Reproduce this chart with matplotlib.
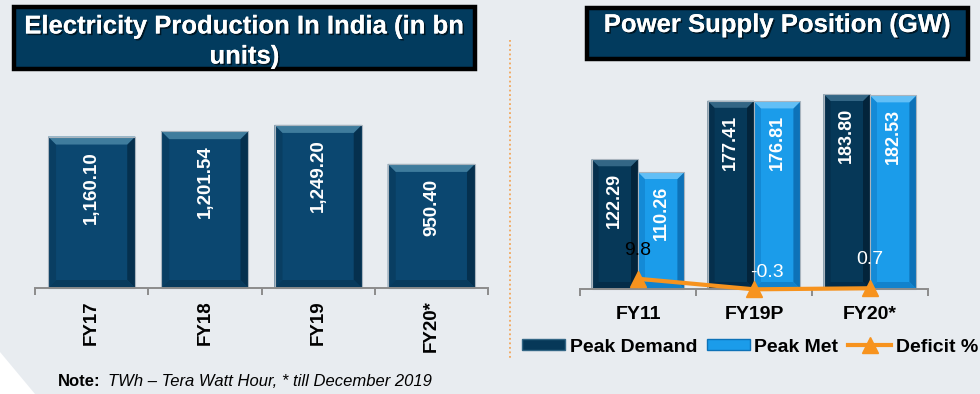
import matplotlib
matplotlib.use("Agg")
import matplotlib.pyplot as plt
import matplotlib.patheffects as pe
from matplotlib.patches import Polygon, Rectangle, Patch
from matplotlib.lines import Line2D
from matplotlib.transforms import IdentityTransform

plt.rcParams['font.family'] = ['Liberation Sans', 'DejaVu Sans']

# ---------------- data ----------------
prod_years = ["FY17", "FY18", "FY19", "FY20*"]
prod_values = [1160.10, 1201.54, 1249.20, 950.40]
prod_labels = ["1,160.10", "1,201.54", "1,249.20", "950.40"]

supply_years = ["FY11", "FY19P", "FY20*"]
peak_demand = [122.29, 177.41, 183.80]
peak_met = [110.26, 176.81, 182.53]
deficit_pct = [9.8, -0.3, 0.7]

title_left = "Electricity Production In India (in bn\nunits)"
title_right = "Power Supply Position (GW)"
note_bold = "Note:"
note_italic = "TWh \u2013 Tera Watt Hour, * till December 2019"

# ---------------- style ----------------
W, H = 980, 394
BG = "#e8ecf0"
NAVY = "#023b5e"
ORANGE = "#f7931e"
C_PROD = dict(main="#0b4770", top="#3f7c9d", left="#093e62", right="#05304e", bot="#083a5c")
C_DEM = dict(main="#063858", top="#336685", left="#052f4c", right="#03243b", bot="#042c48")
C_MET = dict(main="#1b9cea", top="#62bff6", left="#148ad6", right="#0d72b8", bot="#1282cc")

fig = plt.figure(figsize=(W / 100, H / 100), dpi=100)
fig.patch.set_facecolor(BG)


def fx(px):
    return px / W


def fy(py):
    return 1 - py / H


# white diagonal at bottom-left
fig.patches.append(Polygon([(fx(0), fy(352)), (fx(35), fy(394)), (fx(0), fy(394))],
                           closed=True, transform=fig.transFigure, facecolor="white",
                           edgecolor="none", zorder=0))

shadow = [pe.withSimplePatchShadow(offset=(1.2, -1.2), shadow_rgbFace="black", alpha=0.6),
          pe.Normal()]


def title_box(x0, y0, x1, y1, text, ty, ls=1.0):
    fig.patches.append(Rectangle((fx(x0), fy(y1)), fx(x1) - fx(x0), fy(y0) - fy(y1),
                                 transform=fig.transFigure, facecolor=NAVY,
                                 edgecolor="black", linewidth=3.2, zorder=1))
    fig.text(fx((x0 + x1) / 2), fy(ty), text, ha="center", va="center",
             color="white", fontsize=18.5, fontweight="bold", linespacing=ls,
             multialignment="center", zorder=2, path_effects=shadow)


title_box(14, 7, 475, 69, title_left, 41.5, ls=1.32)
title_box(587, 8, 968, 59, title_right, 25)

# separator dotted line
fig.lines.append(Line2D([fx(510), fx(510)], [fy(40), fy(360)], transform=fig.transFigure,
                        color="#f2a65a", linestyle=(0, (1, 1.5)), linewidth=1.3))


def bevel_bar(ax, rect, cols, b=6):
    (x0, y0), (x1, y1) = ax.transData.transform([(rect.get_x(), 0),
                                                 (rect.get_x() + rect.get_width(), rect.get_height())])
    t = IdentityTransform()
    polys = [
        ([(x0, y0), (x1, y0), (x1, y1), (x0, y1)], cols["main"]),
        ([(x0, y0), (x0 + b, y0 + b), (x0 + b, y1 - b), (x0, y1)], cols["left"]),
        ([(x1, y0), (x1, y1), (x1 - b, y1 - b), (x1 - b, y0 + b)], cols["right"]),
        ([(x0, y0), (x1, y0), (x1 - b, y0 + b), (x0 + b, y0 + b)], cols["bot"]),
        ([(x0, y1), (x1, y1), (x1 - b, y1 - b), (x0 + b, y1 - b)], cols["top"]),
    ]
    for pts, c in polys:
        ax.add_patch(Polygon(pts, closed=True, transform=t, facecolor=c,
                             edgecolor="none", zorder=2, clip_on=False))
    ax.add_patch(Polygon([(x0, y0), (x1, y0), (x1, y1), (x0, y1)], closed=True,
                         transform=t, facecolor="none", edgecolor="#a9b4be",
                         linewidth=0.8, zorder=2, clip_on=False))


def style_axis(ax, n):
    ax.set_facecolor("none")
    for s in ["top", "right", "left"]:
        ax.spines[s].set_visible(False)
    ax.spines["bottom"].set_color("#8c8c8c")
    ax.spines["bottom"].set_linewidth(1.4)
    ax.spines["bottom"].set_zorder(3)
    ax.set_yticks([])
    ax.set_xlim(-0.5, n - 0.5)
    ax.set_xticks([i - 0.5 for i in range(n + 1)], minor=True)
    ax.tick_params(axis="x", which="minor", length=5, width=1.4, color="#8c8c8c", direction="out")
    ax.tick_params(axis="x", which="major", length=0)


# ---------------- left chart ----------------
axL = fig.add_axes([fx(35), fy(288), fx(488) - fx(35), fy(100) - fy(288)])
style_axis(axL, len(prod_years))
axL.set_ylim(0, 1440)
xs = list(range(len(prod_years)))
barsL = axL.bar(xs, prod_values, width=0.77, color="none", edgecolor="none")
axL.set_xticks(xs)
axL.set_xticklabels(prod_years, rotation=90, fontsize=13.5, fontweight="bold")
axL.tick_params(axis="x", which="major", pad=9)
for r in barsL:
    bevel_bar(axL, r, C_PROD, b=8)
for r, lab in zip(barsL, prod_labels):
    axL.annotate(lab, (r.get_x() + r.get_width() / 2, r.get_height()), xytext=(0, -10.5),
                 textcoords="offset points", rotation=90, ha="center", va="top",
                 color="white", fontsize=13.5, fontweight="bold", zorder=5)

# ---------------- right chart ----------------
axR = fig.add_axes([fx(580), fy(289), fx(928) - fx(580), fy(80) - fy(289)])
style_axis(axR, len(supply_years))
axR.set_ylim(0, 197)
xr = list(range(len(supply_years)))
bw = 0.4
barsD = axR.bar([x - bw / 2 for x in xr], peak_demand, width=bw, color="none", edgecolor="none")
barsM = axR.bar([x + bw / 2 for x in xr], peak_met, width=bw, color="none", edgecolor="none")
axR.set_xticks(xr)
axR.set_xticklabels(supply_years, fontsize=14, fontweight="bold")
axR.tick_params(axis="x", which="major", pad=12)
for r in barsD:
    bevel_bar(axR, r, C_DEM, b=7)
for r in barsM:
    bevel_bar(axR, r, C_MET, b=7)
for bars, vals in ((barsD, peak_demand), (barsM, peak_met)):
    for r, v in zip(bars, vals):
        axR.annotate(f"{v:.2f}", (r.get_x() + r.get_width() / 2, r.get_height()), xytext=(0, -10),
                     textcoords="offset points", rotation=90, ha="center", va="top",
                     color="white", fontsize=13, fontweight="bold", zorder=5)

axT = axR.twinx()
axT.set_ylim(0, 200)
axT.axis("off")
axT.plot(xr, deficit_pct, color=ORANGE, linewidth=3, marker="^", markersize=11,
         clip_on=False, zorder=6)
label_offsets = [(0, 20), (9, 12), (0, 21)]
label_colors = ["black", "white", "white"]
for x, v, off, c in zip(xr, deficit_pct, label_offsets, label_colors):
    axT.annotate(f"{v}", (x, v), xytext=off, textcoords="offset points",
                 ha="center", va="center", fontsize=14, color=c, zorder=7)

handles = [Patch(facecolor=C_DEM["main"], edgecolor=C_DEM["top"], linewidth=1),
           Patch(facecolor=C_MET["main"], edgecolor=C_MET["right"], linewidth=1),
           Line2D([], [], color=ORANGE, linewidth=3, marker="^", markersize=11)]
fig.legend(handles, ["Peak Demand", "Peak Met", "Deficit %"], loc="center",
           bbox_to_anchor=(fx(750), fy(347)), ncol=3, frameon=False,
           prop=dict(size=14, weight="bold"), handlelength=2.2, handleheight=0.5,
           handletextpad=0.25, columnspacing=0.5, borderaxespad=0)

# ---------------- note ----------------
fig.text(fx(58), fy(382), note_bold, ha="left", va="center", fontsize=12, fontweight="bold")
fig.text(fx(108), fy(382), note_italic, ha="left", va="center", fontsize=12, style="italic")

fig.savefig("out.png", dpi=100, facecolor=BG)
